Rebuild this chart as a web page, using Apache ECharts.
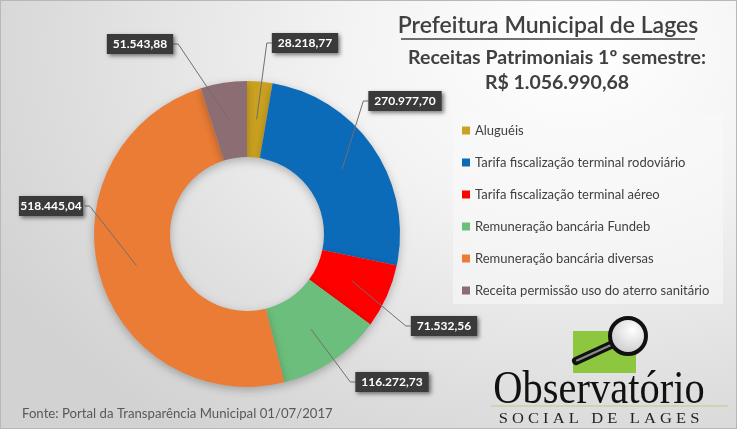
<!DOCTYPE html>
<html>
<head>
<meta charset="utf-8">
<script src="https://cdn.jsdelivr.net/npm/echarts@6/dist/echarts.min.js"></script>
<style>
  html, body { margin: 0; padding: 0; }
  #chart {
    width: 737px; height: 429px;
    box-sizing: border-box;
    border: 1px solid #b8b8b8;
    background: radial-gradient(ellipse 90% 110% at 78% 12%, #ffffff 0%, #f3f3f3 35%, #dedede 75%, #d2d2d2 100%);
  }
</style>
</head>
<body>
<div id="chart"></div>
<script>
// dados
const categorias = [
  'Aluguéis',
  'Tarifa fiscalização terminal rodoviário',
  'Tarifa fiscalização terminal aéreo',
  'Remuneração bancária Fundeb',
  'Remuneração bancária diversas',
  'Receita permissão uso do aterro sanitário'
]
const valores = [28218.77, 270977.70, 71532.56, 116272.73, 518445.04, 51543.88]
const cores = ['#CBA11F', '#0C6BB9', '#FE0000', '#6CBE7C', '#EB7C35', '#8C6D74']
const total = '1.056.990,68'

// formato brasileiro
function fmt(v) {
  return v.toLocaleString('pt-BR', { minimumFractionDigits: 2, maximumFractionDigits: 2 })
}

const chart = echarts.init(document.getElementById('chart'))

const centro = [246, 233]
const raios = [77, 153]

// onde ficam as caixinhas dos rótulos (centro)
const posRotulo = [[304, 42], [404, 100], [443, 325], [391, 381], [50, 205], [139, 43]]

// ângulo do meio de cada fatia (horário, a partir do topo)
const soma = valores.reduce((a, b) => a + b, 0)
const meio = []
let acc = 0
valores.forEach(v => { meio.push((acc + v / 2) / soma * Math.PI * 2); acc += v })

const dados = categorias.map((c, i) => ({ name: c, value: valores[i] }))

chart.setOption({
  textStyle: { fontFamily: 'Lato' },
  color: cores,
  legend: {
    orient: 'vertical',
    left: 456,
    top: 118,
    itemWidth: 8,
    itemHeight: 8,
    itemGap: 19,
    icon: 'rect',
    textStyle: { fontSize: 13, color: '#404040', fontFamily: 'Lato' },
    data: categorias
  },
  graphic: [
    // caixa da legenda
    { type: 'rect', z: -1, shape: { x: 452, y: 113, width: 270, height: 190 },
      style: { fill: 'rgba(250,250,250,0.55)' } },
    // título
    { type: 'text', x: 547, y: 25, style: { text: 'Prefeitura Municipal de Lages', font: '600 23px Lato',
      fill: '#404040', align: 'center', verticalAlign: 'middle' } },
    { type: 'line', shape: { x1: 400, y1: 38, x2: 694, y2: 38 }, style: { stroke: '#404040', lineWidth: 1.5 } },
    { type: 'text', x: 556, y: 57, style: { text: 'Receitas Patrimoniais 1º semestre:', font: 'bold 19.5px Lato',
      fill: '#404040', align: 'center', verticalAlign: 'middle' } },
    { type: 'text', x: 556, y: 82, style: { text: 'R$ ' + total, font: 'bold 19.5px Lato',
      fill: '#404040', align: 'center', verticalAlign: 'middle' } },
    // fonte
    { type: 'text', x: 21, y: 413, style: { text: 'Fonte: Portal da Transparência Municipal 01/07/2017',
      font: '13.2px Lato', fill: '#595959', verticalAlign: 'middle' } },
    // logo
    { type: 'rect', shape: { x: 572, y: 330, width: 63, height: 42 }, style: { fill: '#8DC63F' } },
    { type: 'line', shape: { x1: 575, y1: 360, x2: 612, y2: 343 },
      style: { stroke: '#111', lineWidth: 8, lineCap: 'round' } },
    { type: 'line', shape: { x1: 576, y1: 359.5, x2: 610, y2: 344 },
      style: { stroke: '#8a8a8a', lineWidth: 2, lineCap: 'round' } },
    { type: 'circle', shape: { cx: 627, cy: 335, r: 18 },
      style: { fill: new echarts.graphic.RadialGradient(0.6, 0.35, 0.8, [
        { offset: 0, color: '#ffffff' }, { offset: 1, color: '#bdbdbd' }]),
        stroke: '#111', lineWidth: 4 } },
    { type: 'text', x: 598, y: 390, scaleX: 0.88, style: { text: 'Observatório', font: '46px "Liberation Serif"',
      fill: '#111', align: 'center', verticalAlign: 'middle' } },
    { type: 'line', shape: { x1: 490, y1: 405, x2: 727, y2: 405 }, style: { stroke: '#b9cc8f', lineWidth: 1 } },
    { type: 'text', x: 598, y: 418, scaleX: 1.1, style: { text: 'S O C I A L   D E   L A G E S', font: '15px "Liberation Serif"',
      fill: '#222', align: 'center', verticalAlign: 'middle' } }
  ],
  series: [
    // rosca colorida
    {
      name: 'Receitas Patrimoniais',
      type: 'pie',
      center: centro,
      radius: raios,
      startAngle: 90,
      clockwise: true,
      itemStyle: {
        shadowBlur: 8,
        shadowColor: 'rgba(0,0,0,0.25)',
        shadowOffsetY: 3
      },
      label: { show: false },
      labelLine: { show: false },
      emphasis: { disabled: true },
      data: dados
    },
    // mesma rosca, transparente, só para rótulos e linhas guia por cima
    {
      name: 'Rótulos',
      type: 'pie',
      z: 5,
      silent: true,
      center: centro,
      radius: raios,
      startAngle: 90,
      clockwise: true,
      itemStyle: { color: 'rgba(0,0,0,0)' },
      label: {
        show: true,
        position: 'outside',
        overflow: 'none',
        formatter: p => fmt(p.value),
        color: '#fff',
        fontWeight: 'bold',
        fontSize: 12,
        fontFamily: 'Lato',
        backgroundColor: '#3a3a3a',
        padding: [4, 6],
        shadowBlur: 4,
        shadowColor: 'rgba(0,0,0,0.5)',
        shadowOffsetX: 2,
        shadowOffsetY: 2
      },
      labelLine: {
        show: true,
        length: 10,
        length2: 10,
        minTurnAngle: 0,
        maxSurfaceAngle: 180,
        lineStyle: { color: '#6f6f6f', width: 1 }
      },
      // linha guia estilo Excel: do meio do anel até a caixinha
      labelLayout: function (params) {
        const i = params.dataIndex
        const p = posRotulo[i]
        const r = (raios[0] + raios[1]) / 2
        const px = centro[0] + r * Math.sin(meio[i])
        const py = centro[1] - r * Math.cos(meio[i])
        const meiaL = params.labelRect.width / 2
        const dir = p[0] > px ? -1 : 1
        const bx = p[0] + dir * meiaL
        return {
          x: p[0], y: p[1], align: 'center', verticalAlign: 'middle',
          labelLinePoints: [[px, py], [bx + dir * 5, p[1]], [bx, p[1]]]
        }
      },
      emphasis: { disabled: true },
      data: dados
    }
  ]
})
</script>
</body>
</html>
